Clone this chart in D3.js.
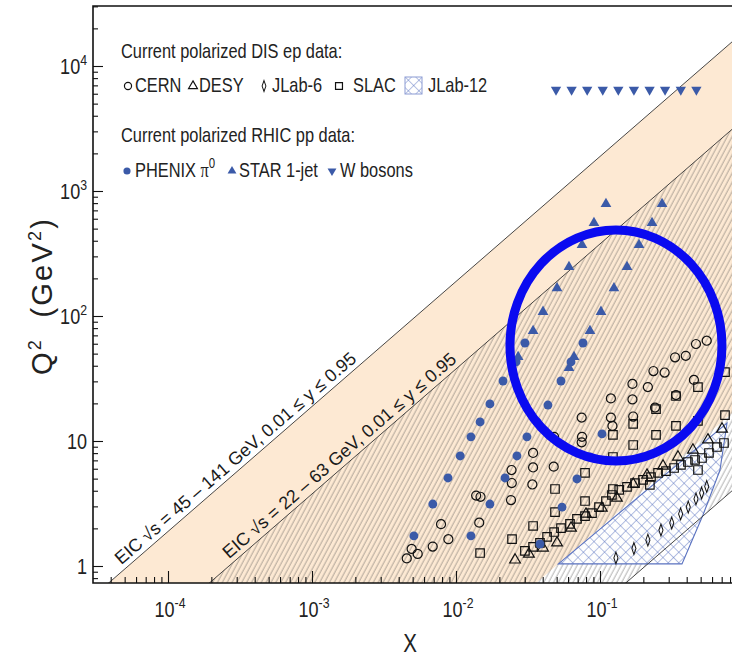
<!DOCTYPE html>
<html>
<head>
<meta charset="utf-8">
<script src="https://cdn.jsdelivr.net/npm/d3@7"></script>
<style>
  html, body { margin: 0; padding: 0; background: #fff; }
  svg { display: block; font-family: "Liberation Sans", Arial, Helvetica, sans-serif; }
</style>
</head>
<body>
<svg id="chart" width="732" height="657"></svg>
<script>
// ---------------- data: [x, Q^2 (GeV^2)] ----------------
const cernData = [
  [0.00455,1.15],[0.00492,1.37],[0.00542,1.25],[0.00689,1.43],[0.00787,2.16],[0.00885,1.64],
  [0.0138,3.66],[0.0148,3.58],[0.0145,2.22],[0.0243,5.86],[0.0244,4.61],[0.0241,3.37],
  [0.0343,8.02],[0.0343,6.14],[0.0339,4.49],[0.0480,10.8],[0.0477,6.23],[0.0746,15.4],
  [0.0750,10.8],[0.0746,9.76],[0.119,21.9],[0.119,15.4],[0.122,13.2],[0.168,28.6],
  [0.168,21.5],[0.170,15.7],[0.235,36.3],[0.215,27.0],[0.241,18.5],[0.281,35.3],
  [0.332,46.7],[0.394,48.0],[0.464,59.7],[0.551,63.4],[0.449,30.8],[0.337,23.3]
];
const desyData = [
  [0.0257,1.14],[0.0321,1.27],[0.0402,1.42],[0.0503,1.56],[0.0629,2.05],[0.0799,2.65],
  [0.103,2.96],[0.131,3.56],[0.170,4.61],[0.212,5.44],[0.274,6.43],[0.348,7.59],
  [0.442,8.63],[0.562,10.4],[0.704,12.7]
];
const jlab6Data = [
  [0.129,1.16],[0.172,1.38],[0.215,1.61],[0.265,1.94],[0.315,2.21],
  [0.363,2.61],[0.410,2.96],[0.464,3.44],[0.508,3.84],[0.551,4.33]
];
const slacData = [
  [0.0301,1.32],[0.0343,1.42],[0.0383,1.53],[0.0429,1.71],[0.0480,1.87],[0.0536,2.01],
  [0.0619,2.17],[0.0692,2.38],[0.0787,2.51],[0.0880,2.65],[0.0984,2.96],[0.110,3.31],
  [0.121,3.70],[0.136,4.06],[0.154,4.29],[0.175,4.61],[0.199,4.88],[0.226,5.15],
  [0.253,5.55],[0.287,5.75],[0.327,6.08],[0.365,6.43],[0.408,6.79],[0.457,7.05],
  [0.511,7.31],[0.571,8.02],[0.649,8.95],[0.726,9.64],
  [0.0147,1.27],[0.0245,1.64],[0.0343,2.09],[0.0487,2.70],[0.0487,4.13],[0.0787,3.31],
  [0.0787,5.55],[0.123,4.13],[0.123,7.45],[0.123,11.2],[0.170,9.29],[0.170,13.7],
  [0.245,11.2],[0.245,18.0],[0.337,13.2],[0.337,22.9],[0.479,14.5],[0.479,27.0],
  [0.738,16.1],[0.738,35.6],[0.222,4.45],[0.479,5.86]
];
// JLab 12 GeV projected coverage (outline)
const jlab12Region = [[0.0514,1.04],[0.371,1.04],[0.519,2.56],[0.681,5.86],[0.762,13.9]];

const phenixData = [
  [0.0051,1.74],[0.0069,3.13],[0.0088,5.06],[0.0107,7.59],[0.0127,10.8],[0.0147,14.2],
  [0.0172,19.8],[0.0212,30.2],[0.0261,42.9],[0.0301,60.8],
  [0.0127,1.74],[0.0172,3.13],[0.0219,5.06],[0.0265,7.59],[0.0311,10.8],[0.0365,14.2],
  [0.0435,19.4],[0.0536,30.2],[0.0629,42.9],[0.0762,60.8],
  [0.0383,1.50],[0.0545,2.96],[0.0692,4.97],[0.0852,7.45],[0.1033,11.4]
];
const starData = [
  [0.0270,47.0],[0.0343,75.9],[0.0402,108],[0.0503,167],[0.0609,247],[0.0750,370],
  [0.0908,555],[0.110,787],
  [0.0609,38.4],[0.0660,47.0],[0.0852,75.9],[0.1016,108],[0.125,167],[0.154,247],
  [0.1866,370],[0.2297,555],[0.2697,787]
];
const wBosonData = [
  [0.0495,6464],[0.0635,6464],[0.0815,6464],[0.1045,6464],[0.134,6464],
  [0.172,6464],[0.221,6464],[0.283,6464],[0.364,6464],[0.467,6464]
];

// EIC kinematic reach: Q^2 = x * y * s
const eicBands = [
  { label: "EIC \u221As = 45 \u2013 141 GeV, 0.01 \u2264 y \u2264 0.95", sMin: 45, sMax: 141, labelX: 5.0e-5 },
  { label: "EIC \u221As = 22 \u2013 63 GeV, 0.01 \u2264 y \u2264 0.95",  sMin: 22, sMax: 63,  labelX: 2.8e-4 }
];
const yInelMin = 0.01, yInelMax = 0.95;

// highlighted region (x range, Q^2 range)
const highlightX = [0.0237, 0.703];
const highlightQ2 = [6.92, 488];

const xMajorTicks = [1e-4, 1e-3, 1e-2, 1e-1];
const xTickLabels = ["-4", "-3", "-2", "-1"];
const yMajorTicks = [1, 10, 100, 1000, 10000];
const yTickLabels = [["1", ""], ["10", ""], ["10", "2"], ["10", "3"], ["10", "4"]];

// ---------------- layout ----------------
const svg = d3.select("#chart");
const frame = { left: 93, top: 6, right: 732, bottom: 583 };
const x = d3.scaleLog().domain([1e-4, 1]).range([168, 744]);
const y = d3.scaleLog().domain([1, 1e4]).range([566, 66]);
const NARROW = 0.82;   // condensed lettering

const tan = "#fde9d3";
const blue = "#3b5aa8";
const hatchBlue = "#5a72c0";
const ink = "#222";

// text with condensed glyphs
function ntext(parent, px, py, size, anchor) {
  return parent.append("text")
    .attr("transform", `translate(${px},${py}) scale(${NARROW},1)`)
    .attr("font-size", size).attr("text-anchor", anchor || "start").attr("fill", ink);
}

const defs = svg.append("defs");
defs.append("clipPath").attr("id", "plotClip")
  .append("rect").attr("x", frame.left).attr("y", frame.top)
  .attr("width", frame.right - frame.left).attr("height", frame.bottom - frame.top);

const hatch = defs.append("pattern").attr("id", "hatch")
  .attr("patternUnits", "userSpaceOnUse").attr("width", 4.3).attr("height", 10)
  .attr("patternTransform", "rotate(28)");
hatch.append("line").attr("x1", 1).attr("y1", 0).attr("x2", 1).attr("y2", 10)
  .attr("stroke", "#474747").attr("stroke-width", 0.45);

const xhatch = defs.append("pattern").attr("id", "xhatch")
  .attr("patternUnits", "userSpaceOnUse").attr("width", 7.5).attr("height", 7.5)
  .attr("patternTransform", "rotate(45)");
xhatch.append("line").attr("x1", 0).attr("y1", 0).attr("x2", 0).attr("y2", 7.5)
  .attr("stroke", hatchBlue).attr("stroke-width", 0.9);
xhatch.append("line").attr("x1", 0).attr("y1", 0).attr("x2", 7.5).attr("y2", 0)
  .attr("stroke", hatchBlue).attr("stroke-width", 0.9);

const line = d3.line().x(d => x(d[0])).y(d => y(d[1]));
const plot = svg.append("g").attr("clip-path", "url(#plotClip)");

// strip between two lines Q^2 = cTop*x and Q^2 = cBot*x
function strip(cTop, cBot) {
  const xs = [1e-7, 10];
  return [[xs[0], cTop * xs[0]], [xs[1], cTop * xs[1]], [xs[1], cBot * xs[1]], [xs[0], cBot * xs[0]]];
}

const wide = eicBands[0], narrow = eicBands[1];
plot.append("path")
  .attr("d", line(strip(yInelMax * wide.sMax ** 2, yInelMin * wide.sMin ** 2)) + "Z")
  .attr("fill", tan);
plot.append("path")
  .attr("d", line(strip(yInelMax * narrow.sMax ** 2, yInelMin * narrow.sMin ** 2)) + "Z")
  .attr("fill", "url(#hatch)");

// JLab-12 projection
plot.append("path").attr("d", line(jlab12Region) + "Z").attr("fill", "#ffffff").attr("fill-opacity", 0.9);
plot.append("path").attr("d", line(jlab12Region) + "Z")
  .attr("fill", "url(#xhatch)").attr("stroke", hatchBlue).attr("stroke-width", 1.1);

// boundary lines
const boundaryCoefs = [yInelMax * wide.sMax ** 2, yInelMax * narrow.sMax ** 2, yInelMin * narrow.sMin ** 2];
boundaryCoefs.forEach(c => {
  plot.append("path").attr("d", line([[1e-7, c * 1e-7], [10, c * 10]]))
    .attr("fill", "none").attr("stroke", "#333").attr("stroke-width", 0.9);
});

// rotated band labels
const slopeAngle = Math.atan2(y(10) - y(1), x(10) - x(1)) * 180 / Math.PI;
eicBands.forEach(b => {
  const c = yInelMax * b.sMax ** 2;
  const px = x(b.labelX), py = y(c * b.labelX);
  svg.append("text")
    .attr("transform", `translate(${px},${py}) rotate(${slopeAngle})`)
    .attr("dy", -5).attr("font-size", 18).attr("fill", "#1a1a1a")
    .text(b.label);
});

// ---------------- markers ----------------
const sym = (type, size) => d3.symbol().type(type).size(size)();
function drawOpen(data, path, extra) {
  plot.append("g").selectAll("path").data(data).join("path")
    .attr("d", path)
    .attr("transform", d => `translate(${x(d[0])},${y(d[1])})${extra || ""}`)
    .attr("fill", "none").attr("stroke", "#111").attr("stroke-width", 1.2);
}
function drawFilled(data, path, extra) {
  plot.append("g").selectAll("path").data(data).join("path")
    .attr("d", path)
    .attr("transform", d => `translate(${x(d[0])},${y(d[1])})${extra || ""}`)
    .attr("fill", blue);
}
drawOpen(slacData, sym(d3.symbolSquare, 72));
drawOpen(desyData, sym(d3.symbolTriangle, 50), " translate(0,1)");
drawOpen(jlab6Data, sym(d3.symbolDiamond, 26), " scale(0.75,1.25)");
drawOpen(cernData, sym(d3.symbolCircle, 64));
drawFilled(phenixData, sym(d3.symbolCircle, 62));
drawFilled(starData, sym(d3.symbolTriangle, 50));
drawFilled(wBosonData, sym(d3.symbolTriangle, 46), " rotate(180)");

// highlight ellipse
const ex0 = x(highlightX[0]), ex1 = x(highlightX[1]);
const ey0 = y(highlightQ2[1]), ey1 = y(highlightQ2[0]);
svg.append("ellipse")
  .attr("cx", (ex0 + ex1) / 2).attr("cy", (ey0 + ey1) / 2)
  .attr("rx", (ex1 - ex0) / 2).attr("ry", (ey1 - ey0) / 2)
  .attr("fill", "none").attr("stroke", "#0a0af0").attr("stroke-width", 9);

// ---------------- axes ----------------
const xMin = x.invert(frame.left), xMax = x.invert(frame.right);
const yMin = y.invert(frame.bottom), yMax = y.invert(frame.top);
function minorTicks(lo, hi) {
  const out = [];
  for (let e = -6; e <= 5; e++) for (let k = 2; k <= 9; k++) {
    const v = k * Math.pow(10, e);
    if (v > lo && v < hi) out.push(v);
  }
  return out;
}
const noDomain = g => g.select(".domain").remove();
svg.append("g").attr("transform", `translate(0,${frame.bottom})`)
  .call(d3.axisBottom(x).tickValues(xMajorTicks).tickSize(-12).tickFormat("")).call(noDomain);
svg.append("g").attr("transform", `translate(0,${frame.bottom})`)
  .call(d3.axisBottom(x).tickValues(minorTicks(xMin, xMax)).tickSize(-6).tickFormat("")).call(noDomain);
svg.append("g").attr("transform", `translate(${frame.left},0)`)
  .call(d3.axisLeft(y).tickValues(yMajorTicks).tickSize(-10).tickFormat("")).call(noDomain);
svg.append("g").attr("transform", `translate(${frame.left},0)`)
  .call(d3.axisLeft(y).tickValues(minorTicks(yMin, yMax)).tickSize(-5).tickFormat("")).call(noDomain);
svg.selectAll(".tick line").attr("stroke", "#111").attr("stroke-width", 1.1);

// frame
svg.append("path")
  .attr("d", `M${frame.right},${frame.top}H${frame.left}V${frame.bottom}H${frame.right}`)
  .attr("fill", "none").attr("stroke", "#111").attr("stroke-width", 1.6);

// tick labels
xMajorTicks.forEach((v, i) => {
  const t = ntext(svg, x(v) + 2, 617, 22, "middle");
  t.append("tspan").text("10");
  t.append("tspan").attr("dy", -9).attr("font-size", 15).text(xTickLabels[i]);
});
yMajorTicks.forEach((v, i) => {
  const t = ntext(svg, 87, y(v) + 8, 22, "end");
  t.append("tspan").text(yTickLabels[i][0]);
  if (yTickLabels[i][1]) t.append("tspan").attr("dy", -9).attr("font-size", 15).text(yTickLabels[i][1]);
});

// axis titles
ntext(svg, 410, 652, 25, "middle").text("X");
const yt = svg.append("text")
  .attr("transform", "translate(52,296) rotate(-90)")
  .attr("text-anchor", "middle").attr("font-size", 29).attr("fill", ink)
  .attr("letter-spacing", 2.2)
  .style("white-space", "pre");
yt.append("tspan").text("Q");
yt.append("tspan").attr("dy", -11).attr("font-size", 18).text("2");
yt.append("tspan").attr("dy", 11).text("  (GeV");
yt.append("tspan").attr("dy", -11).attr("font-size", 18).text("2");
yt.append("tspan").attr("dy", 11).text(")");

// ---------------- legend ----------------
const lg = svg.append("g");
ntext(lg, 121, 58, 20).text("Current polarized DIS ep data:");
ntext(lg, 121, 142, 20).text("Current polarized RHIC pp data:");

const legendRow1 = [
  { sx: 128, tx: 135, label: "CERN", path: sym(d3.symbolCircle, 40), tr: "" },
  { sx: 193, tx: 199, label: "DESY", path: sym(d3.symbolTriangle, 34), tr: "" },
  { sx: 264, tx: 272, label: "JLab-6", path: sym(d3.symbolDiamond, 22), tr: " scale(0.75,1.25)" },
  { sx: 339, tx: 353, label: "SLAC", path: sym(d3.symbolSquare, 48), tr: "" }
];
legendRow1.forEach(d => {
  lg.append("path").attr("d", d.path).attr("transform", `translate(${d.sx},86)${d.tr}`)
    .attr("fill", "none").attr("stroke", "#111").attr("stroke-width", 1.2);
  ntext(lg, d.tx, 92, 20).text(d.label);
});
lg.append("rect").attr("x", 405).attr("y", 77).attr("width", 17).attr("height", 17)
  .attr("fill", "url(#xhatch)").attr("stroke", "#8b9bd3").attr("stroke-width", 1);
ntext(lg, 428, 92, 20).text("JLab-12");

const legendRow2 = [
  { sx: 127, path: sym(d3.symbolCircle, 40), tr: "" },
  { sx: 232, tx: 239, label: "STAR 1-jet", path: sym(d3.symbolTriangle, 34), tr: "" },
  { sx: 332, tx: 340, label: "W bosons", path: sym(d3.symbolTriangle, 34), tr: " rotate(180)" }
];
legendRow2.forEach(d => {
  lg.append("path").attr("d", d.path).attr("transform", `translate(${d.sx},171)${d.tr}`).attr("fill", blue);
  if (d.label) ntext(lg, d.tx, 177, 20).text(d.label);
});
const ph = ntext(lg, 135, 177, 20);
ph.append("tspan").text("PHENIX ");
ph.append("tspan").attr("font-family", "Liberation Serif, serif").text("\u03C0");
ph.append("tspan").attr("dy", -9).attr("font-size", 14).text("0");
</script>
</body>
</html>
